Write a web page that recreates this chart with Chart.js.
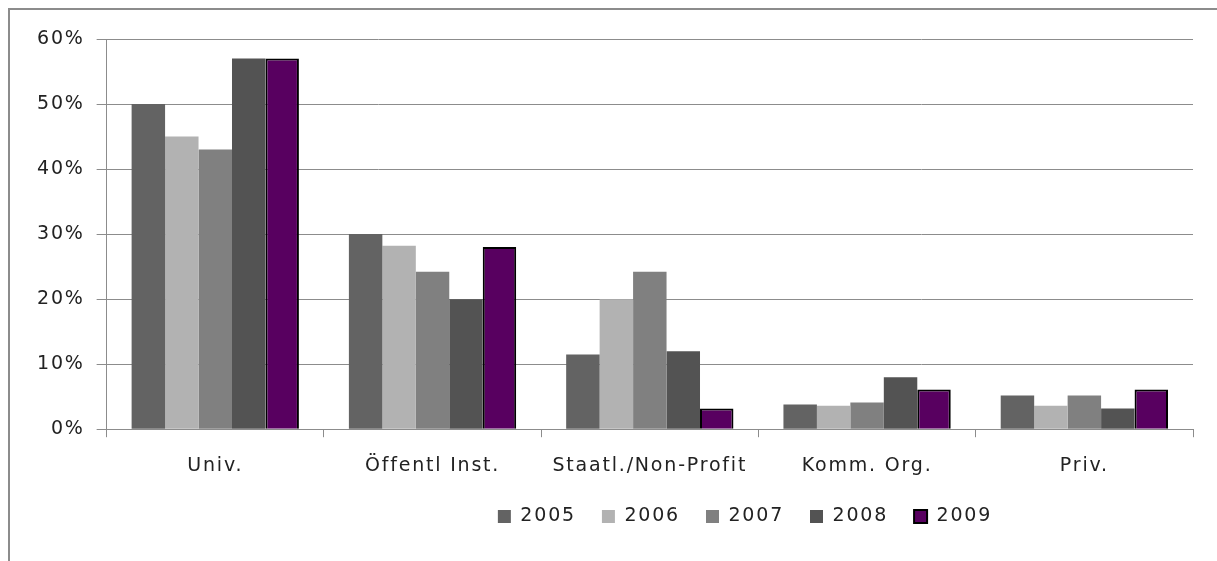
<!DOCTYPE html>
<html lang="de">
<head>
<meta charset="UTF-8">
<title>Anteile nach Organisationstyp 2005-2009</title>
<script src="https://cdn.jsdelivr.net/npm/chart.js"></script>
<style>
  body { margin: 0; background: #fff; overflow: hidden; }
  #frame { position: absolute; left: 8px; top: 8px; width: 1400px; height: 800px; border: 2px solid #8c8c8c; }
  #wrap { position: absolute; left: 0; top: 0; width: 1217px; height: 561px; }
</style>
</head>
<body>
<div id="frame"></div>
<div id="wrap"><canvas id="chart"></canvas></div>
<script>
  const categories = ["Univ.", "Öffentl Inst.", "Staatl./Non-Profit", "Komm. Org.", "Priv."];
  const years = ["2005", "2006", "2007", "2008", "2009"];
  const v2005 = [50, 30, 11.5, 3.8, 5.2];
  const v2006 = [45, 28.2, 20, 3.6, 3.6];
  const v2007 = [43, 24.2, 24.2, 4.1, 5.2];
  const v2008 = [57, 20, 12, 8, 3.2];
  const v2009 = [57, 28, 3.2, 6.1, 6.1];
  const yTicks = [0, 10, 20, 30, 40, 50, 60];

  const colors = ["#636363", "#b2b2b2", "#808080", "#535353", "#580060"];
  const series = [v2005, v2006, v2007, v2008, v2009];

  // wide, tracked text like the original rendering
  const spacing = {
    id: "spacing",
    beforeUpdate(chart) { chart.ctx.letterSpacing = "1.8px"; },
    beforeDraw(chart) { chart.ctx.letterSpacing = "1.8px"; }
  };
  // legend sits right of centre in the original
  const shiftLegend = {
    id: "shiftLegend",
    afterLayout(chart) {
      chart.legend.left += 136;
      chart.legend.right += 136;
    }
  };

  Chart.defaults.font.family = "'DejaVu Sans', sans-serif";
  Chart.defaults.font.size = 19;
  Chart.defaults.color = "#222";

  new Chart(document.getElementById("chart"), {
    type: "bar",
    data: {
      labels: categories,
      datasets: years.map((y, i) => ({
        label: y,
        data: series[i],
        backgroundColor: colors[i],
        borderColor: i === 4 ? "#000" : colors[i],
        borderWidth: i === 4 ? 2 : 0,
        barPercentage: 1,
        categoryPercentage: 0.77
      }))
    },
    plugins: [spacing, shiftLegend],
    options: {
      responsive: true,
      maintainAspectRatio: false,
      animation: false,
      layout: { padding: { top: 39, right: 24, left: 25, bottom: 25 } },
      plugins: {
        tooltip: { enabled: false },
        legend: {
          position: "bottom",
          labels: { boxWidth: 13, boxHeight: 13, padding: 26, color: "#222" }
        }
      },
      scales: {
        x: {
          grid: { offset: true, drawOnChartArea: false, color: "#8c8c8c", tickLength: 8 },
          border: { color: "#8c8c8c" },
          ticks: { padding: 17 },
          afterFit(axis) { axis.height -= 13; }
        },
        y: {
          min: 0,
          max: 60,
          afterBuildTicks(axis) { axis.ticks = yTicks.map(v => ({ value: v })); },
          grid: { color: "#8c8c8c", tickLength: 10 },
          border: { color: "#8c8c8c" },
          ticks: { padding: 12, callback: v => v + "%" }
        }
      }
    }
  });
</script>
</body>
</html>
